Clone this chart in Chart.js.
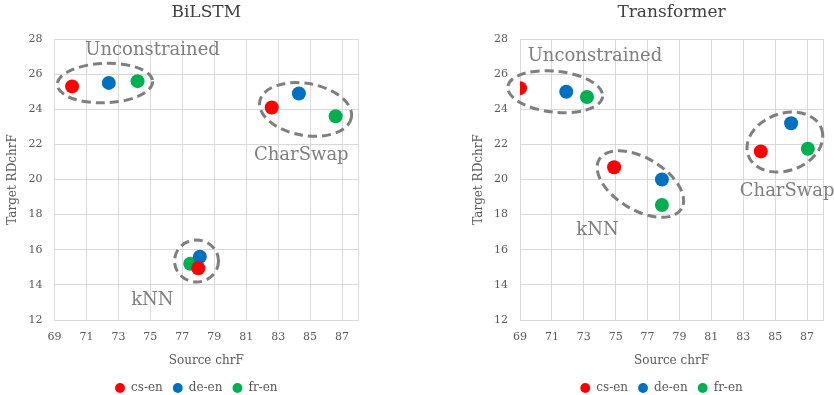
<!DOCTYPE html>
<html>
<head>
<meta charset="utf-8">
<script src="https://cdn.jsdelivr.net/npm/chart.js@4/dist/chart.umd.min.js"></script>
<style>
    html, body { margin: 0; padding: 0; background: #fff; overflow: hidden; }
    .box { position: absolute; top: 0; width: 417px; height: 395px; }
</style>
</head>
<body>
<div class="box" style="left:0"><canvas id="bilstm"></canvas></div>
<div class="box" style="left:417px"><canvas id="transformer"></canvas></div>
<script>
// order of points in every series: Unconstrained, kNN, CharSwap
const languages = ['cs-en', 'de-en', 'fr-en'];
const colors = ['#ff0000', '#0070c0', '#00b050'];

const biCsX = [70.1, 78.0, 82.6];
const biCsY = [25.3, 14.95, 24.1];
const biDeX = [72.4, 78.1, 84.3];
const biDeY = [25.5, 15.6, 24.9];
const biFrX = [74.2, 77.5, 86.6];
const biFrY = [25.6, 15.2, 23.6];

const trCsX = [69.0, 74.9, 84.1];
const trCsY = [25.2, 20.7, 21.6];
const trDeX = [71.9, 77.9, 86.0];
const trDeY = [25.0, 20.0, 23.2];
const trFrX = [73.2, 77.9, 87.05];
const trFrY = [24.7, 18.55, 21.75];

const xTicks = [69, 71, 73, 75, 77, 79, 81, 83, 85, 87];
const yTicks = [12, 14, 16, 18, 20, 22, 24, 26, 28];

// dashed groups: centre in data units, radii in px
const biGroups = [
    { text: 'Unconstrained', cx: 72.16, cy: 25.49, rx: 47.7, ry: 19.7, rot: -2, lx: 75.14, ly: 27.37 },
    { text: 'kNN', cx: 77.89, cy: 15.36, rx: 22, ry: 21, rot: 0, lx: 75.13, ly: 13.14 },
    { text: 'CharSwap', cx: 84.72, cy: 23.99, rx: 46.5, ry: 26, rot: 10, lx: 84.45, ly: 21.39 }
];
const trGroups = [
    { text: 'Unconstrained', cx: 71.21, cy: 25.0, rx: 47.7, ry: 20.5, rot: 6, lx: 73.7, ly: 26.99 },
    { text: 'kNN', cx: 76.55, cy: 19.74, rx: 48, ry: 26, rot: 31, lx: 73.86, ly: 17.08 },
    { text: 'CharSwap', cx: 85.61, cy: 22.13, rx: 39, ry: 28.6, rot: -20, lx: 85.75, ly: 19.34 }
];

Chart.defaults.font.family = "'DejaVu Serif', serif";
Chart.defaults.color = '#595959';

function toPoints(xs, ys) {
    return xs.map((x, i) => ({ x: x, y: ys[i] }));
}

const groupPlugin = {
    id: 'groups',
    afterLayout(chart) {
        // legend sits a little left of the plot centre in the original
        chart.legend.left -= 10;
        chart.legend.right -= 10;
    },
    afterDatasetsDraw(chart, args, opts) {
        const ctx = chart.ctx;
        const sx = chart.scales.x, sy = chart.scales.y;
        opts.items.forEach(g => {
            ctx.save();
            ctx.strokeStyle = '#7f7f7f';
            ctx.lineWidth = 3;
            ctx.setLineDash([9, 5]);
            ctx.beginPath();
            ctx.ellipse(sx.getPixelForValue(g.cx), sy.getPixelForValue(g.cy), g.rx, g.ry, g.rot * Math.PI / 180, 0, Math.PI * 2);
            ctx.stroke();
            ctx.setLineDash([]);
            ctx.fillStyle = '#7f7f7f';
            ctx.font = "18px 'DejaVu Serif'";
            ctx.textAlign = 'center';
            ctx.textBaseline = 'middle';
            ctx.fillText(g.text, sx.getPixelForValue(g.lx), sy.getPixelForValue(g.ly));
            ctx.restore();
        });
    }
};

function makeChart(id, title, series, groups, padLeft, padRight, yWidth) {
    const datasets = series.map((s, i) => ({
        label: languages[i],
        data: toPoints(s[0], s[1]),
        backgroundColor: colors[i],
        borderColor: colors[i],
        pointRadius: 7,
        pointBorderWidth: 0
    }));
    return new Chart(document.getElementById(id), {
        type: 'scatter',
        data: { datasets: datasets },
        plugins: [groupPlugin],
        options: {
            responsive: true,
            maintainAspectRatio: false,
            animation: false,
            layout: { padding: { left: padLeft, right: padRight, top: 0, bottom: 0 } },
            plugins: {
                title: {
                    display: true,
                    fullSize: false,
                    text: title,
                    color: '#404040',
                    font: { size: 17, weight: 'normal' },
                    padding: { top: 2, bottom: 16.6 }
                },
                legend: {
                    position: 'bottom',
                    fullSize: false,
                    maxHeight: 23,
                    labels: {
                        usePointStyle: true,
                        pointStyle: 'circle',
                        boxWidth: 10,
                        boxHeight: 7,
                        padding: 10,
                        font: { size: 12 }
                    }
                },
                tooltip: { enabled: false },
                groups: { items: groups }
            },
            scales: {
                x: {
                    min: 69,
                    max: 88,
                    afterBuildTicks: axis => { axis.ticks = xTicks.concat([88]).map(v => ({ value: v })); },
                    afterFit: axis => { axis.height = 52; },
                    ticks: {
                        font: { size: 11 },
                        padding: 11,
                        autoSkip: false,
                        maxRotation: 0,
                        callback: v => xTicks.includes(v) ? String(v) : ''
                    },
                    grid: { color: '#d9d9d9', drawTicks: false },
                    border: { color: '#d9d9d9' },
                    title: { display: true, text: 'Source chrF', font: { size: 12 }, padding: { top: 4, bottom: 4 } }
                },
                y: {
                    min: 12,
                    max: 28,
                    afterBuildTicks: axis => { axis.ticks = yTicks.map(v => ({ value: v })); },
                    afterFit: axis => { axis.width = yWidth; },
                    ticks: { font: { size: 11 }, padding: 12 },
                    grid: { color: '#d9d9d9', drawTicks: false },
                    border: { color: '#d9d9d9' },
                    title: { display: true, text: 'Target RDchrF', font: { size: 12 }, padding: { top: 4, bottom: 4 } }
                }
            }
        }
    });
}

makeChart('bilstm', 'BiLSTM', [[biCsX, biCsY], [biDeX, biDeY], [biFrX, biFrY]], biGroups, 2, 59, 52.5);
makeChart('transformer', 'Transformer', [[trCsX, trCsY], [trDeX, trDeY], [trFrX, trFrY]], trGroups, 51, 11, 52);
</script>
</body>
</html>
